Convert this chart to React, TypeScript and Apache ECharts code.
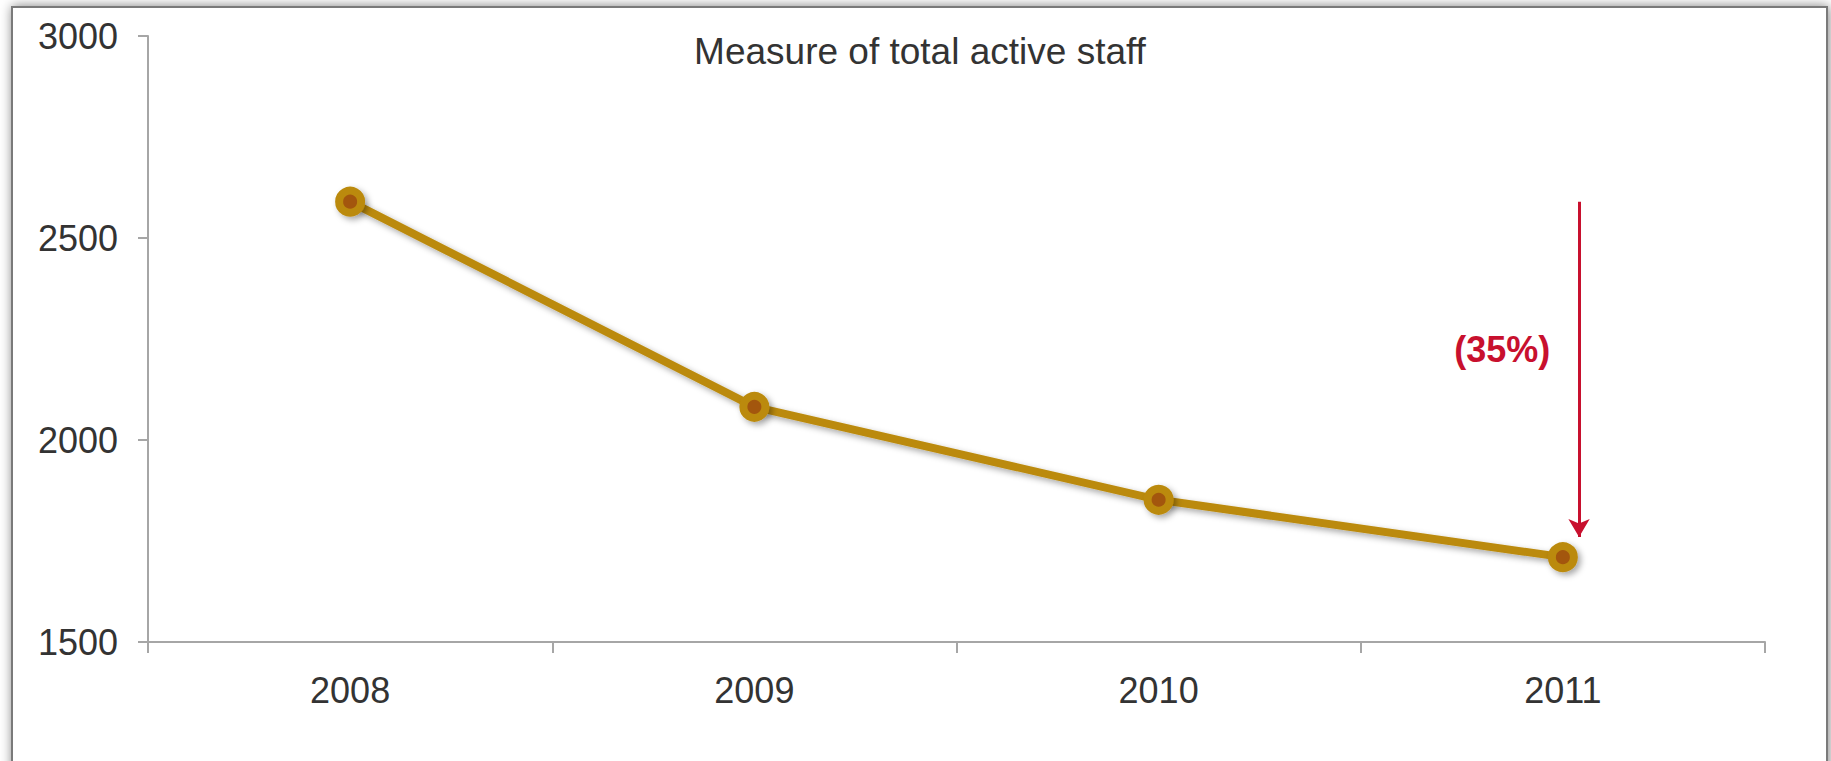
import React, { useEffect, useRef } from "react";
import * as echarts from "echarts";

const years = ["2008", "2009", "2010", "2011"];
const activeStaff = [2590, 2082, 1852, 1710];
const yTicks = { min: 1500, max: 3000, interval: 500 };
const titleText = "Measure of total active staff";
const changeLabel = "(35%)";
// arrow annotation: from the 2008 level down to just above the 2011 point
const arrowX = 3.54;
const arrowFrom = 2590;
const arrowTo = 1760;
const labelPos = [3.35, 2223];

const FONT = "'Liberation Sans', Arial, sans-serif";

export default function App() {
  const ref = useRef<HTMLDivElement>(null);
  useEffect(() => {
    if (!ref.current) return;
    const chart = echarts.init(ref.current, undefined, { renderer: "svg" });
    chart.setOption({
      animation: false,
      backgroundColor: "#ffffff",
      graphic: [
        {
          type: "rect",
          z: -10,
          silent: true,
          shape: { x: 12, y: 7, width: 1815, height: 800 },
          style: {
            fill: "#ffffff",
            stroke: "#7a7a7a",
            lineWidth: 2,
            shadowBlur: 12,
            shadowColor: "rgba(0,0,0,0.5)",
            shadowOffsetX: 1,
            shadowOffsetY: 0,
          },
        },
      ],
      title: {
        text: titleText,
        left: 915,
        top: 28,
        textAlign: "center",
        textStyle: { fontFamily: FONT, fontSize: 37, fontWeight: "normal", color: "#333333" },
      },
      grid: { left: 148, right: 66, top: 36, bottom: 119, containLabel: false },
      xAxis: [
        {
          type: "category",
          data: years,
          boundaryGap: true,
          axisLine: { show: true, lineStyle: { color: "#a6a6a6", width: 2 } },
          axisTick: { show: true, length: 11, lineStyle: { color: "#a6a6a6", width: 2 } },
          axisLabel: { fontFamily: FONT, fontSize: 36, color: "#333333", margin: 30 },
          splitLine: { show: false },
        },
        { type: "value", min: 0, max: 4, show: false },
      ],
      yAxis: {
        type: "value",
        min: yTicks.min,
        max: yTicks.max,
        interval: yTicks.interval,
        axisLine: { show: true, lineStyle: { color: "#a6a6a6", width: 2 } },
        axisTick: { show: true, length: 10, lineStyle: { color: "#a6a6a6", width: 2 } },
        axisLabel: {
          fontFamily: FONT,
          fontSize: 36,
          color: "#333333",
          margin: 30,
          formatter: (v: number) => String(v),
        },
        splitLine: { show: false },
      },
      series: [
        {
          type: "line",
          data: activeStaff,
          symbol: "circle",
          symbolSize: 22,
          lineStyle: {
            color: "#bb8a0c",
            width: 8,
            shadowBlur: 6,
            shadowColor: "rgba(0,0,0,0.35)",
            shadowOffsetX: 3,
            shadowOffsetY: 3,
          },
          itemStyle: {
            color: "#a3560c",
            borderColor: "#bb8a0c",
            borderWidth: 8,
            shadowBlur: 6,
            shadowColor: "rgba(0,0,0,0.35)",
            shadowOffsetX: 3,
            shadowOffsetY: 3,
          },
          z: 3,
        },
        {
          type: "line",
          xAxisIndex: 1,
          data: [],
          silent: true,
          markLine: {
            silent: true,
            symbol: ["none", "arrow"],
            symbolSize: [16, 18],
            label: { show: false },
            lineStyle: { color: "#c8102e", width: 3, type: "solid" },
            data: [[{ coord: [arrowX, arrowFrom] }, { coord: [arrowX, arrowTo] }]],
          },
        },
        {
          type: "scatter",
          xAxisIndex: 1,
          silent: true,
          symbolSize: 1,
          itemStyle: { color: "rgba(0,0,0,0)", opacity: 1 },
          data: [labelPos],
          label: {
            show: true,
            position: "inside",
            formatter: changeLabel,
            fontFamily: FONT,
            fontSize: 36,
            fontWeight: "bold",
            color: "#c8102e",
            opacity: 1,
          },
        },
      ],
    });
    return () => chart.dispose();
  }, []);
  return (
    <div
      ref={ref}
      style={{ position: "absolute", left: 0, top: 0, width: 1831, height: 761 }}
    />
  );
}
